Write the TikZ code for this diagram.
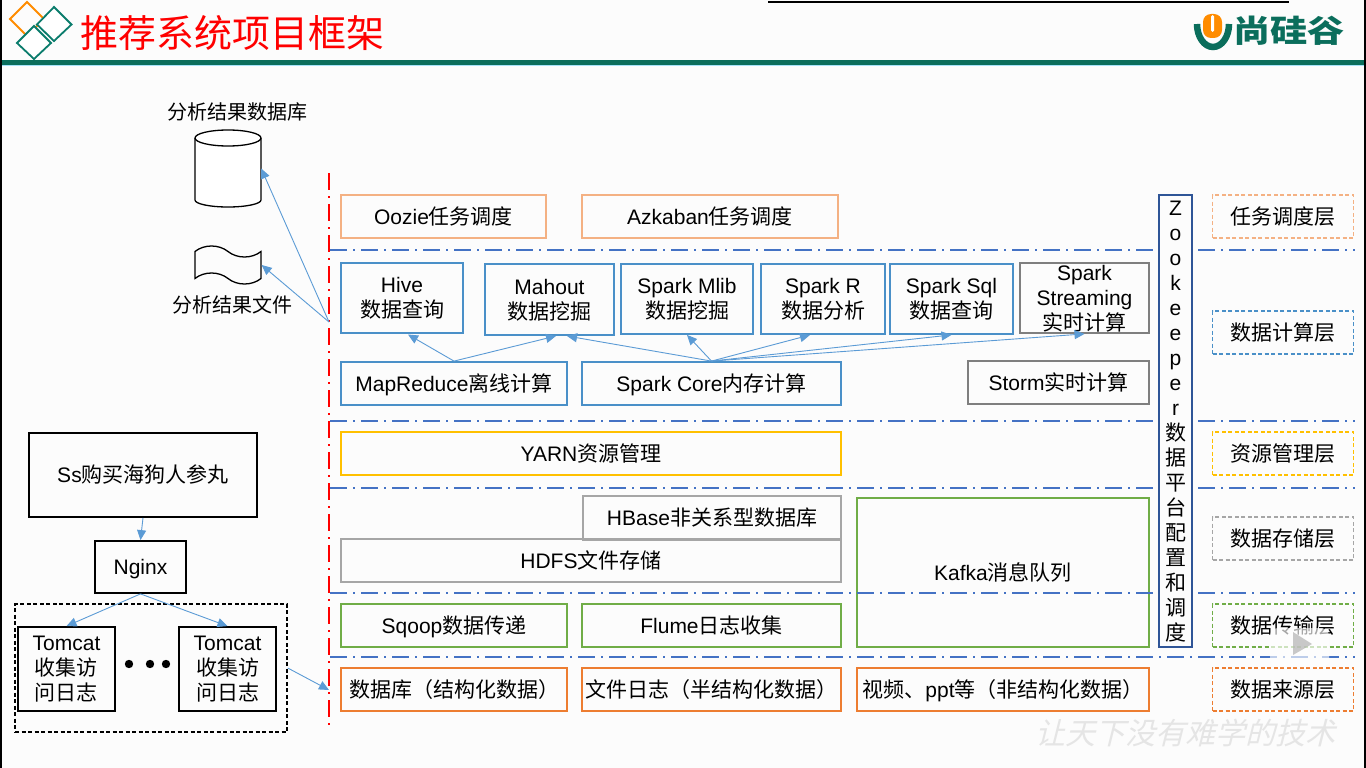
\documentclass[tikz,border=0pt]{standalone}
\usepackage{fontspec}
\setmainfont{Noto Sans CJK SC}
\newfontfamily\latfont{Liberation Sans}
\newfontfamily\markfont[FakeSlant=0.25]{Noto Sans CJK SC}
\newcommand{\la}[1]{{\latfont #1}}
\usetikzlibrary{arrows.meta,shapes.symbols}
\definecolor{tealbar}{HTML}{0B6E5C}
\definecolor{arrowblue}{HTML}{5B9BD5}
\definecolor{lineblue}{HTML}{4472C4}
\definecolor{boxblue}{HTML}{4A90C8}
\definecolor{boxpeach}{HTML}{F4B183}
\definecolor{boxorange}{HTML}{ED7D31}
\definecolor{boxgreen}{HTML}{70AD47}
\definecolor{boxgray}{HTML}{A6A6A6}
\definecolor{boxdark}{HTML}{7F7F7F}
\definecolor{boxyellow}{HTML}{FFC000}
\definecolor{zkblue}{HTML}{2F5597}
\tikzset{
  wh/.style 2 args={minimum width=#1,minimum height=#2},
  block/.style={draw,line width=1.8pt,inner sep=0pt,align=center,font=\fontsize{21}{25}\selectfont},
  oneline/.style={block,text height=17pt,text depth=2pt},
  tallbox/.style={block,text depth=1pt},
  layerbox/.style={oneline,dash pattern=on 4pt off 2.5pt,wh={141}{43}},
  flow/.style={draw=arrowblue,line width=0.9pt,-{Triangle[length=10pt,width=9pt]}},
  layerline/.style={draw=lineblue,line width=1.8pt,dash pattern=on 17pt off 6pt on 2pt off 6pt},
  plain/.style={font=\fontsize{20}{25}\selectfont,inner sep=0pt,align=center}
}
\begin{document}
\begin{tikzpicture}[x=1pt,y=-1pt]
  \useasboundingbox (0,0) rectangle (1366,768);
  \fill[white!99!black] (0,0) rectangle (1366,768);

  % Cabecera
  \fill[black] (0,0) rectangle (2,768);
  \fill[black] (1364,0) rectangle (1366,768);
  \draw[black,line width=2pt] (768,2) -- (1289,2);
  \fill[tealbar] (2,60) rectangle (1364,65);
  \fill[cyan!35] (2,65) rectangle (1364,66);
  \draw[orange!90!yellow,line width=1.8pt] (27,2) -- (44,19) -- (27,36) -- (10,19) -- cycle;
  \draw[tealbar!90!cyan,line width=1.8pt,fill=white] (54,7) -- (71.5,24.5) -- (54,41) -- (37,24.5) -- cycle;
  \draw[tealbar!90!cyan,line width=1.8pt,fill=white] (34,26) -- (51,43) -- (34,59) -- (17,43) -- cycle;
  \node[text=red,font=\fontsize{38}{38}\selectfont,inner sep=0pt] (title) at (232.5,33) {推荐系统项目框架};

  % Logo
  \draw[tealbar,line width=6.5pt] (1197,24) arc (180:0:16 and 23);
  \fill[orange!90!yellow,rounded corners=8pt] (1203,14) rectangle (1222,38);
  \fill[white,rounded corners=1.5pt] (1211,15) rectangle (1214,32);
  \node[text=tealbar,font=\fontsize{31}{31}\selectfont\bfseries,inner sep=0pt,xscale=1.2] (brand) at (1289,31) {尚硅谷};

  % Resultados
  \node[plain] (dbtitle) at (237,112) {分析结果数据库};
  \node[wh={66}{77},inner sep=0pt] (resultdb) at (228,168.5) {};
  \draw[line width=1.3pt,fill=white] (195,138) -- (195,200) arc (180:0:33 and 7) -- (261,138);
  \draw[line width=1.3pt,fill=white] (228,138) ellipse (33 and 8);
  \node[draw,line width=1.3pt,shape=tape,tape bend top=out and in,tape bend bottom=out and in,tape bend height=11pt,minimum width=66,minimum height=38,inner sep=0pt] (resultfile) at (228,265) {};
  \node[plain] (filetitle) at (232.5,305) {分析结果文件};

  % Capas (izquierda)
  \node[oneline,draw=boxpeach,wh={205}{43}] (oozie) at (443.5,216.5) {\la{Oozie}任务调度};
  \node[oneline,draw=boxpeach,wh={256}{43}] (azkaban) at (710,216.5) {\la{Azkaban}任务调度};
  \node[tallbox,draw=boxblue,wh={122}{70}] (hive) at (402,298) {\la{Hive}\\数据查询};
  \node[tallbox,draw=boxblue,wh={129}{71}] (mahout) at (549.5,299.5) {\la{Mahout}\\数据挖掘};
  \node[tallbox,draw=boxblue,wh={132}{70}] (mlib) at (687,299) {\la{Spark Mlib}\\数据挖掘};
  \node[tallbox,draw=boxblue,wh={124}{70}] (sparkr) at (823,299) {\la{Spark R}\\数据分析};
  \node[tallbox,draw=boxblue,wh={123}{70}] (sparksql) at (951.5,299) {\la{Spark Sql}\\数据查询};
  \node[tallbox,draw=boxdark,wh={129}{70}] (streaming) at (1084.5,298) {\la{Spark}\\\la{Streaming}\\实时计算};
  \node[oneline,draw=boxblue,wh={226}{43}] (mapreduce) at (454,383.5) {\la{MapReduce}离线计算};
  \node[oneline,draw=boxblue,wh={259}{43}] (sparkcore) at (711.5,383.5) {\la{Spark Core}内存计算};
  \node[oneline,draw=boxdark,wh={181}{43}] (storm) at (1058.5,382.5) {\la{Storm}实时计算};
  \node[oneline,draw=boxyellow,wh={500}{43}] (yarn) at (591,453.5) {\la{YARN}资源管理};
  \node[oneline,draw=boxgray,wh={258}{44}] (hbase) at (712,518) {\la{HBase}非关系型数据库};
  \node[oneline,draw=boxgray,wh={500}{43}] (hdfs) at (591,560.5) {\la{HDFS}文件存储};
  \node[oneline,draw=boxgreen,wh={292}{149}] (kafka) at (1003,572.5) {\la{Kafka}消息队列};
  \node[oneline,draw=boxgreen,wh={226}{43}] (sqoop) at (454,625.5) {\la{Sqoop}数据传递};
  \node[oneline,draw=boxgreen,wh={259}{43}] (flume) at (711.5,625.5) {\la{Flume}日志收集};
  \node[oneline,draw=boxorange,wh={226}{43}] (rdb) at (454,689.5) {数据库（结构化数据）};
  \node[oneline,draw=boxorange,wh={259}{43}] (logfile) at (711.5,689.5) {文件日志（半结构化数据）};
  \node[oneline,draw=boxorange,wh={292}{43}] (video) at (1003,689.5) {视频、\la{ppt}等（非结构化数据）};

  % Separadores
  \foreach \y in {250,421,488,593,657} \draw[layerline] (330,\y) -- (1355,\y);
  \draw[draw=red,line width=1.8pt,dash pattern=on 17pt off 6pt on 2pt off 6pt] (329,173) -- (329,729);

  % Zookeeper
  \node[tallbox,draw=zkblue,fill=white!99!black,wh={33}{452}] (zookeeper) at (1175.5,421)
    {\la{Z}\\\la{o}\\\la{o}\\\la{k}\\\la{e}\\\la{e}\\\la{p}\\\la{e}\\\la{r}\\数\\据\\平\\台\\配\\置\\和\\调\\度};

  % Capas (derecha)
  \node[layerbox,draw=boxpeach] (layertask) at (1283,216.5) {任务调度层};
  \node[layerbox,draw=boxblue] (layercalc) at (1283,332.5) {数据计算层};
  \node[layerbox,draw=boxyellow] (layerres) at (1283,453.5) {资源管理层};
  \node[layerbox,draw=boxgray] (layerstore) at (1283,538.5) {数据存储层};
  \node[layerbox,draw=boxgreen] (layertrans) at (1283,625.5) {数据传输层};
  \node[layerbox,draw=boxorange] (layersrc) at (1283,689.5) {数据来源层};

  % Origen de datos
  \node[oneline,draw=black,wh={228}{84}] (shop) at (143,475) {\la{Ss}购买海狗人参丸};
  \node[oneline,draw=black,wh={91}{52}] (nginx) at (140.5,567) {\la{Nginx}};
  \node[draw,line width=1.5pt,dash pattern=on 4pt off 2.5pt,wh={272}{128},inner sep=0pt] (tomcats) at (151,668) {};
  \node[tallbox,draw=black,wh={97}{84}] (tomcata) at (66.5,669) {\la{Tomcat}\\收集访\\问日志};
  \node[tallbox,draw=black,wh={97}{84}] (tomcatb) at (227.5,669) {\la{Tomcat}\\收集访\\问日志};
  \foreach \x in {129,150,166} \fill[black] (\x,664) circle (4.2pt);

  % Flechas
  \coordinate (redtap) at (329,322);
  \coordinate (redin) at (329,690);
  \coordinate (hivetip) at (408,334.5);
  \coordinate (mahouttipa) at (556,336);
  \coordinate (mahouttipb) at (567,336);
  \coordinate (sparkrtip) at (810,335);
  \draw[flow] (redtap) -- (resultdb.east);
  \draw[flow] (redtap) -- (resultfile.east);
  \draw[flow] (mapreduce.north) -- (hivetip);
  \draw[flow] (mapreduce.north) -- (mahouttipa);
  \draw[flow] (sparkcore.north) -- (mahouttipb);
  \draw[flow] (sparkcore.north) -- (mlib.south);
  \draw[flow] (sparkcore.north) -- (sparkrtip);
  \draw[flow] (sparkcore.north) -- (sparksql.south);
  \draw[flow] (sparkcore.north) -- (streaming.south);
  \draw[flow] (shop.south) -- (nginx.north);
  \draw[flow] (nginx.south) -- (tomcata.north);
  \draw[flow] (nginx.south) -- (tomcatb.north);
  \draw[flow] (tomcats.east) -- (redin);

  % Marcas de agua
  \node[text=black!10,font=\fontsize{30}{30}\markfont,inner sep=0pt] (slogan) at (1185,733) {让天下没有难学的技术};
  \fill[white,opacity=.65,rounded corners=8pt] (1270,628) rectangle (1329,667);
  \fill[black!30,opacity=.7] (1293,632) -- (1312,644) -- (1293,655) -- cycle;
\end{tikzpicture}
\end{document}
